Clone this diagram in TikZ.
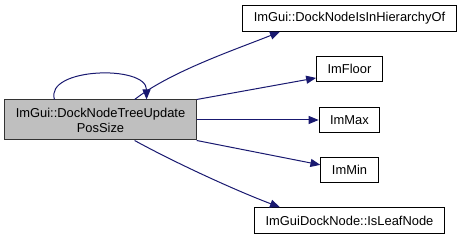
\documentclass[tikz,border=0pt]{standalone}
\usepackage{fontspec}
\setmainfont{Liberation Sans}
\usepackage{tikz}
\usetikzlibrary{arrows.meta, positioning}
\definecolor{cgazul}{HTML}{191970}
\definecolor{cgcinza}{HTML}{BFBFBF}
\tikzset{
  cgblock/.style={rectangle, draw=black, line width=1pt, fill=white,
                  inner xsep=11pt, inner ysep=0pt, minimum height=25.5pt,
                  align=center, font=\fontsize{12.9}{15}\selectfont},
  cgroot/.style={cgblock, fill=cgcinza, draw=black!80, minimum width=191pt,
                 minimum height=40pt},
  cgarrow/.style={-{Triangle[length=10pt, width=8pt]}, line width=1pt, cgazul},
}

\begin{document}
\begin{tikzpicture}[x=1pt, y=1pt]
    \useasboundingbox (0,0) rectangle (461,240);
    % Bloco principal
    \node[cgroot] (tree) at (100.5, 120)
      {ImGui::DockNodeTreeUpdate\\PosSize};
    % Funcoes chamadas
    \node[cgblock] (hier) at (349.5, 221.5) {ImGui::DockNodeIsInHierarchyOf};
    \node[cgblock] (floor) at (349.5, 171) {ImFloor};
    \node[cgblock] (max) at (349.5, 120) {ImMax};
    \node[cgblock] (min) at (349.5, 70) {ImMin};
    \node[cgblock] (leaf) at (349.5, 19.5) {ImGuiDockNode::IsLeafNode};
    % Chamada recursiva
    \draw[cgarrow] (tree.156) .. controls +(-10, 32) and +(0, 35) .. (tree.24);
    % Chamadas
    \draw[cgarrow] (tree.31) .. controls +(36, 28) and +(-45, -18) .. (hier.south west -| 280, 0);
    \draw[cgarrow] (tree.north east) -- (floor.195);
    \draw[cgarrow] (tree.east) -- (max.west);
    \draw[cgarrow] (tree.south east) -- (min.170);
    \draw[cgarrow] (tree.-31) .. controls +(40, -22) and +(-45, 17) .. (leaf.north west -| 280, 0);
  \end{tikzpicture}
\end{document}
